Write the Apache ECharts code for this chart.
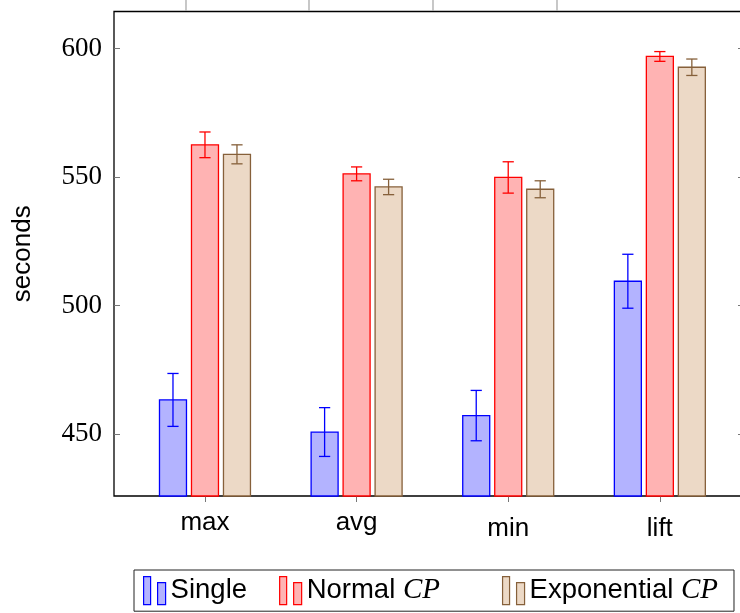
<!DOCTYPE html>
<html>
<head>
<meta charset="utf-8">
<script src="https://cdn.jsdelivr.net/npm/echarts@6/dist/echarts.min.js"></script>
<style>
  html, body { margin: 0; padding: 0; background: #fff; }
  #chart { width: 740px; height: 613px; }
</style>
</head>
<body>
<div id="chart"></div>
<script>
// Run times (seconds) per statistic, with error-bar half widths
const categories = ['max', 'avg', 'min', 'lift'];
const singleMean = [463.3, 450.8, 457.2, 509.5];
const singleErr = [10.3, 9.5, 9.8, 10.5];
const normalMean = [562.6, 551.3, 549.9, 597.0];
const normalErr = [5.0, 2.7, 6.1, 1.9];
const expMean = [558.9, 546.2, 545.3, 592.8];
const expErr = [3.7, 3.0, 3.3, 3.2];
const yTicks = [450, 500, 550, 600];

const Y_MIN = 425.9;
const Y_MAX = 614.5;

const SANS = 'Liberation Sans';
const SERIF = 'Liberation Serif';

const styles = [
  { name: 'Single', fill: 'rgb(179,179,255)', stroke: 'rgb(0,0,255)', offset: -0.211 },
  { name: 'Normal', fill: 'rgb(255,179,179)', stroke: 'rgb(255,0,0)', offset: 0 },
  { name: 'Exponential', fill: 'rgb(236,217,198)', stroke: 'rgb(134,96,58)', offset: 0.211 }
];
const means = [singleMean, normalMean, expMean];
const errs = [singleErr, normalErr, expErr];

function makeRender(st) {
  return function (params, api) {
    const x = api.value(0);
    const v = api.value(1);
    const e = api.value(2);
    const unit = api.size([1, 0])[0];
    const pTop = api.coord([x, v]);
    const cx = pTop[0] + st.offset * unit;
    const top = pTop[1];
    const base = api.coord([x, Y_MIN])[1];
    const w = 0.178 * unit;
    const hi = api.coord([x, v + e])[1];
    const lo = api.coord([x, v - e])[1];
    const cap = 0.037 * unit;
    const lineStyle = { stroke: st.stroke, lineWidth: 1.3 };
    return {
      type: 'group',
      children: [
        { type: 'rect', shape: { x: cx - w / 2, y: top, width: w, height: base - top },
          style: { fill: st.fill, stroke: st.stroke, lineWidth: 1.3 } },
        { type: 'line', shape: { x1: cx, y1: hi, x2: cx, y2: lo }, style: lineStyle },
        { type: 'line', shape: { x1: cx - cap, y1: hi, x2: cx + cap, y2: hi }, style: lineStyle },
        { type: 'line', shape: { x1: cx - cap, y1: lo, x2: cx + cap, y2: lo }, style: lineStyle }
      ]
    };
  };
}

const legendIcon = 'path://M0,0H7V28H0Z M14,6H22V28H14Z';
const NBSP = '\u00a0';

const chart = echarts.init(document.getElementById('chart'), null, { renderer: 'canvas' });

chart.setOption({
  animation: false,
  backgroundColor: '#fff',
  grid: {
    left: 114, top: 11.5, width: 630, height: 484.5,
    outerBoundsMode: 'none', containLabel: false,
    show: true, borderColor: '#000', borderWidth: 1.3, backgroundColor: 'transparent'
  },
  xAxis: {
    type: 'value',
    min: -0.6, max: 3.555,
    axisLine: { show: false, onZero: false },
    splitLine: { show: false },
    axisTick: { show: true, inside: false, length: 6, customValues: [0, 1, 2, 3],
      lineStyle: { color: '#777', width: 1 } },
    axisLabel: {
      customValues: [0, 1, 2, 3],
      margin: 14,
      formatter: function (val) {
        const name = categories[Math.round(val)];
        return (name === 'min' || name === 'lift') ? '{b|' + name + '}' : '{a|' + name + '}';
      },
      rich: {
        a: { fontFamily: SANS, fontSize: 26, color: '#000' },
        b: { fontFamily: SANS, fontSize: 26, color: '#000', padding: [6, 0, 0, 0] }
      }
    }
  },
  yAxis: [
    {
      type: 'value', position: 'left',
      min: Y_MIN, max: Y_MAX,
      name: 'seconds', nameLocation: 'middle', nameRotate: 90, nameGap: 78,
      nameTextStyle: { fontFamily: SANS, fontSize: 26, color: '#000' },
      axisLine: { show: false, onZero: false },
      splitLine: { show: false },
      axisTick: { show: true, inside: true, length: 6, customValues: yTicks,
        lineStyle: { color: '#777', width: 1 } },
      axisLabel: { customValues: yTicks, margin: 12,
        fontFamily: SERIF, fontSize: 27, color: '#000' }
    },
    {
      type: 'value', position: 'right',
      min: Y_MIN, max: Y_MAX,
      axisLine: { show: false, onZero: false },
      splitLine: { show: false },
      axisTick: { show: true, inside: true, length: 6, customValues: yTicks,
        lineStyle: { color: '#777', width: 1 } },
      axisLabel: { show: false }
    }
  ],
  legend: {
    left: 134, top: 570,
    orient: 'horizontal',
    padding: [6, 16, 6, 9],
    itemGap: 32,
    itemWidth: 22, itemHeight: 28,
    borderColor: '#222', borderWidth: 1,
    textStyle: {
      fontFamily: SANS, fontSize: 27.5, color: '#000',
      rich: {
        t: { fontFamily: SANS, fontSize: 27.5, color: '#000' },
        cp: { fontFamily: SERIF, fontStyle: 'italic', fontSize: 29, color: '#000' },
        sp: { fontFamily: SANS, fontSize: 27, color: '#000' }
      }
    },
    formatter: function (name) {
      if (name === 'Normal') return '{t|Normal }{cp|CP}{sp|' + NBSP.repeat(4) + '}';
      if (name === 'Exponential') return '{t|Exponential }{cp|CP}';
      return '{t|' + name + '}';
    },
    data: styles.map(st => ({
      name: st.name,
      icon: legendIcon,
      itemStyle: { color: st.fill, borderColor: st.stroke, borderWidth: 1.2 }
    }))
  },
  graphic: [186, 309, 433, 557].map(gx => ({
    type: 'line', silent: true,
    shape: { x1: gx, y1: 0, x2: gx, y2: 11 },
    style: { stroke: '#aaa', lineWidth: 1.3 }
  })),
  series: styles.map((st, k) => ({
    type: 'custom',
    name: st.name,
    xAxisIndex: 0, yAxisIndex: 0,
    itemStyle: { color: st.fill, borderColor: st.stroke },
    encode: { x: 0, y: 1 },
    renderItem: makeRender(st),
    data: categories.map((c, i) => [i, means[k][i], errs[k][i]])
  }))
});
</script>
</body>
</html>
